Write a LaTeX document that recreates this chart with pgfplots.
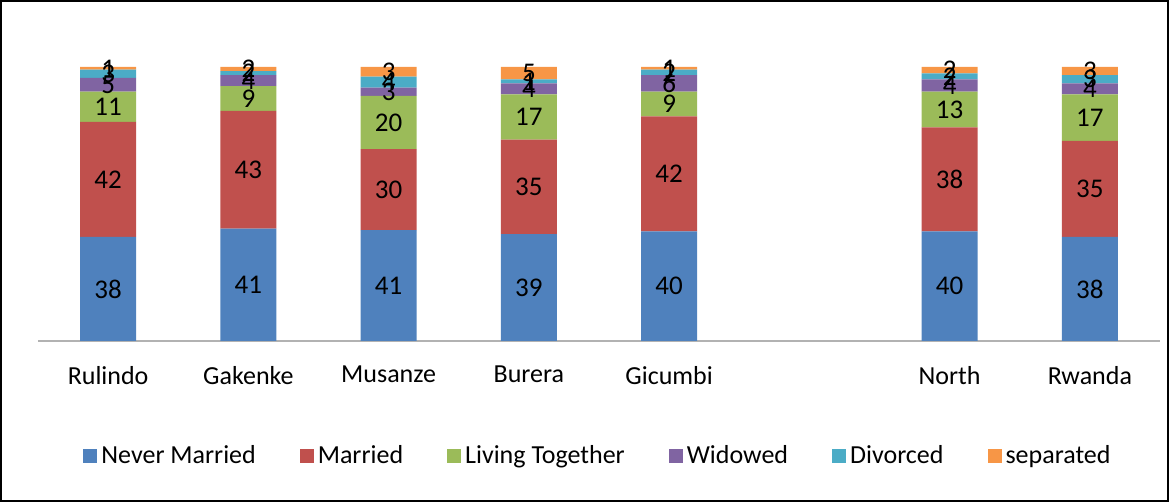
\documentclass[border=0pt]{standalone}
\usepackage{fontspec}
\setmainfont{Carlito}
\usepackage{pgfplots}
\pgfplotsset{compat=1.18}
\definecolor{cNM}{HTML}{4F81BD}
\definecolor{cMA}{HTML}{C0504D}
\definecolor{cLT}{HTML}{9BBB59}
\definecolor{cWI}{HTML}{8064A2}
\definecolor{cDI}{HTML}{4BACC6}
\definecolor{cSE}{HTML}{F79646}
\begin{document}
\begin{tikzpicture}
\useasboundingbox (0,0) rectangle (584.5pt,251pt);
\draw[line width=0.75pt] (0.5pt,0.5pt) rectangle (584pt,250.5pt);
\begin{axis}[
  at={(19pt,80.5pt)}, anchor=south west,
  scale only axis, width=561pt, height=137pt,
  ybar stacked, bar width=28pt,
  xmin=-0.5, xmax=7.5, ymin=0, ymax=100,
  clip=false,
  axis y line=none,
  axis x line*=bottom,
  x axis line style={draw=black!30, line width=0.6pt},
  xtick={0,1,2,3,4,6,7},
  xticklabels={Rulindo,Gakenke,Musanze,Burera,Gicumbi,North,Rwanda},
  xtick style={draw=none},
  xticklabel style={font=\fontsize{13}{15}\selectfont, yshift=-9pt},
  /pgf/number format/assume math mode=true,
  point meta=explicit,
  nodes near coords,
  every node near coord/.append style={font=\fontsize{13.5}{15}\selectfont, anchor=center},
  legend columns=6,
  legend style={at={(0.5,-0.42)}, anchor=center, draw=none, font=\fontsize{13}{15}\selectfont,
    /tikz/every even column/.append style={column sep=20pt}},
  legend image code/.code={\fill[#1,draw=none] (0pt,-3.5pt) rectangle (7pt,3.5pt);},
]
\addplot[fill=cNM, draw=none] coordinates {(0,38) [38] (1,41) [41] (2,40.5) [41] (3,39) [39] (4,40) [40] (6,40) [40] (7,38) [38]};
\addplot[fill=cMA, draw=none] coordinates {(0,42) [42] (1,43) [43] (2,29.5) [30] (3,34.5) [35] (4,42) [42] (6,38) [38] (7,35) [35]};
\addplot[fill=cLT, draw=none] coordinates {(0,11) [11] (1,9) [9] (2,19.5) [20] (3,16.5) [17] (4,9) [9] (6,13) [13] (7,17) [17]};
\addplot[fill=cWI, draw=none] coordinates {(0,5) [5] (1,4) [4] (2,3) [3] (3,4) [4] (4,6) [6] (6,4.5) [4] (7,4) [4]};
\addplot[fill=cDI, draw=none] coordinates {(0,3) [3] (1,1.5) [2] (2,4) [4] (3,1.5) [1] (4,2) [2] (6,2.2) [2] (7,3) [3]};
\addplot[fill=cSE, draw=none] coordinates {(0,1) [1] (1,1.5) [2] (2,3.5) [3] (3,4.5) [5] (4,1) [1] (6,2.3) [2] (7,3) [3]};
\legend{Never Married, Married, Living Together, Widowed, Divorced, separated}
\end{axis}
\end{tikzpicture}
\end{document}
